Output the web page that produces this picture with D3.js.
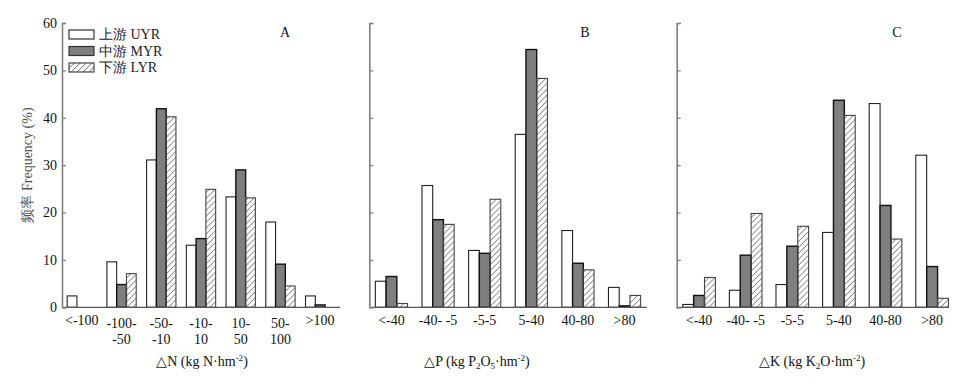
<!DOCTYPE html>
<html>
<head>
<meta charset="utf-8">
<script src="https://cdn.jsdelivr.net/npm/d3@7"></script>
<style>
  body { margin: 0; background: #fff; }
  svg { display: block; font-family: "Liberation Serif", "Times New Roman", serif; }
</style>
</head>
<body>
<div id="chart"></div>
<script>
// series and categories
const seriesNames = ["上游 UYR", "中游 MYR", "下游 LYR"];
const yTicks = [0, 10, 20, 30, 40, 50, 60];

const nCats = ["<-100", "-100-\n-50", "-50-\n-10", "-10-\n10", "10-\n50", "50-\n100", ">100"];
const nUYR = [2.4, 9.6, 31.1, 13.1, 23.3, 18.0, 2.4];
const nMYR = [0, 4.8, 41.9, 14.5, 29.0, 9.1, 0.5];
const nLYR = [0, 7.1, 40.2, 24.9, 23.1, 4.5, 0];

const pCats = ["<-40", "-40- -5", "-5-5", "5-40", "40-80", ">80"];
const pUYR = [5.5, 25.7, 12.0, 36.5, 16.2, 4.2];
const pMYR = [6.5, 18.5, 11.4, 54.4, 9.3, 0.3];
const pLYR = [0.8, 17.5, 22.8, 48.3, 7.9, 2.5];

const kCats = ["<-40", "-40- -5", "-5-5", "5-40", "40-80", ">80"];
const kUYR = [0.6, 3.6, 4.8, 15.8, 43.0, 32.1];
const kMYR = [2.5, 11.0, 12.9, 43.7, 21.5, 8.6];
const kLYR = [6.3, 19.8, 17.1, 40.5, 14.4, 1.9];

const W = 961, H = 384;
const yTop = 23, yBot = 307.3;
const FS = 14;

const svg = d3.select("#chart").append("svg")
    .attr("width", W)
    .attr("height", H);

// hatch pattern for LYR
svg.append("defs").append("pattern")
    .attr("id", "hatch")
    .attr("patternUnits", "userSpaceOnUse")
    .attr("width", 4.2)
    .attr("height", 4.2)
    .attr("patternTransform", "rotate(45)")
    .append("line")
    .attr("x1", 0).attr("y1", 0)
    .attr("x2", 0).attr("y2", 4.2)
    .attr("stroke", "#333")
    .attr("stroke-width", 1);

const y = d3.scaleLinear().domain([0, 60]).range([yBot, yTop]);

const fills = ["#fff", "#7f7f7f", "url(#hatch)"];
const strokes = ["#222", "#111", "#444"];

const panels = [
    { cats: nCats, vals: [nUYR, nMYR, nLYR], x0: 62, x1: 340, axisEnd: 340, pi: 0.262, po: 0.13,
      letter: "A", lx: 285, labels: true },
    { cats: pCats, vals: [pUYR, pMYR, pLYR], x0: 369.3, x1: 646.7, axisEnd: 646.7, pi: 0.31, po: 0.13,
      letter: "B", lx: 585, labels: false },
    { cats: kCats, vals: [kUYR, kMYR, kLYR], x0: 676.7, x1: 954.5, axisEnd: 948, pi: 0.30, po: 0.13,
      letter: "C", lx: 897, labels: false }
];

panels.forEach(p => {
    const g = svg.append("g");

    const x = d3.scaleBand()
        .domain(p.cats)
        .range([p.x0, p.x1])
        .paddingInner(p.pi)
        .paddingOuter(p.po);

    const xs = d3.scaleBand()
        .domain(d3.range(3))
        .range([0, x.bandwidth()]);

    // bars
    p.vals.forEach((arr, si) => {
        g.selectAll(".bar" + si)
            .data(arr.map((v, i) => ({ cat: p.cats[i], value: v })).filter(d => d.value > 0))
            .enter()
            .append("rect")
            .attr("x", d => x(d.cat) + xs(si))
            .attr("y", d => y(d.value))
            .attr("width", xs.bandwidth())
            .attr("height", d => yBot - y(d.value))
            .attr("fill", fills[si])
            .attr("stroke", strokes[si])
            .attr("stroke-width", si === 1 ? 1.4 : 1.1);
    });

    // x axis line
    g.append("line")
        .attr("x1", p.x0).attr("x2", p.axisEnd)
        .attr("y1", yBot).attr("y2", yBot)
        .attr("stroke", "#555")
        .attr("stroke-width", 1.3);

    // x tick labels
    p.cats.forEach(c => {
        const lines = c.split("\n");
        const cx = x(c) + x.bandwidth() / 2;
        const t = g.append("text")
            .attr("x", cx)
            .attr("text-anchor", "middle")
            .attr("font-size", FS)
            .attr("fill", "#111");
        if (lines.length === 1) {
            t.attr("y", 325).text(lines[0]);
        } else {
            lines.forEach((l, li) => {
                t.append("tspan")
                    .attr("x", cx)
                    .attr("y", 328 + li * 16)
                    .text(l);
            });
        }
    });

    // y axis
    const yAxis = d3.axisRight(y)
        .tickValues(yTicks)
        .tickSize(4)
        .tickFormat("");
    const ya = g.append("g")
        .attr("transform", "translate(" + p.x0 + ",0)")
        .call(yAxis);
    ya.select(".domain").attr("stroke", "#7f7f7f").attr("stroke-width", 1.6);
    ya.selectAll(".tick line").attr("stroke", "#7f7f7f").attr("stroke-width", 1.2);

    if (p.labels) {
        yTicks.forEach(v => {
            g.append("text")
                .attr("x", p.x0 - 5)
                .attr("y", y(v))
                .attr("dy", "0.35em")
                .attr("text-anchor", "end")
                .attr("font-size", FS)
                .attr("fill", "#111")
                .text(v);
        });
    }

    // panel letter
    g.append("text")
        .attr("x", p.lx)
        .attr("y", 37)
        .attr("text-anchor", "middle")
        .attr("font-size", FS)
        .attr("fill", "#111")
        .text(p.letter);
});

// x axis titles (with sub/superscripts)
function axisTitle(cx, parts) {
    const t = svg.append("text")
        .attr("x", cx)
        .attr("y", 366)
        .attr("text-anchor", "middle")
        .attr("font-size", FS)
        .attr("fill", "#111");
    parts.forEach(pt => {
        const s = t.append("tspan").text(pt.t);
        if (pt.sup) s.attr("font-size", 9).attr("dy", -5);
        if (pt.sub) s.attr("font-size", 9).attr("dy", 3);
        if (pt.back) s.attr("dy", pt.back);
    });
}
axisTitle(202, [{ t: "△N (kg N·hm" }, { t: "-2", sup: true }, { t: ")", back: 5 }]);
axisTitle(477, [{ t: "△P (kg P" }, { t: "2", sub: true }, { t: "O", back: -3 }, { t: "5", sub: true },
    { t: "·hm", back: -3 }, { t: "-2", sup: true }, { t: ")", back: 5 }]);
axisTitle(812, [{ t: "△K (kg K" }, { t: "2", sub: true }, { t: "O·hm", back: -3 }, { t: "-2", sup: true }, { t: ")", back: 5 }]);

// y axis title
svg.append("text")
    .attr("transform", "translate(32,165) rotate(-90)")
    .attr("text-anchor", "middle")
    .attr("font-size", FS)
    .attr("fill", "#555")
    .text("频率 Frequency (%)");

// legend
const legend = svg.append("g");
seriesNames.forEach((s, i) => {
    const ly = 34.5 + i * 16.5;
    legend.append("rect")
        .attr("x", 69).attr("y", ly - 4.5)
        .attr("width", 25).attr("height", 9)
        .attr("fill", fills[i])
        .attr("stroke", i === 2 ? "#444" : "#333")
        .attr("stroke-width", 1.2);
    legend.append("text")
        .attr("x", 99).attr("y", ly)
        .attr("dy", "0.35em")
        .attr("font-size", FS)
        .attr("fill", "#222")
        .text(s);
});
</script>
</body>
</html>
